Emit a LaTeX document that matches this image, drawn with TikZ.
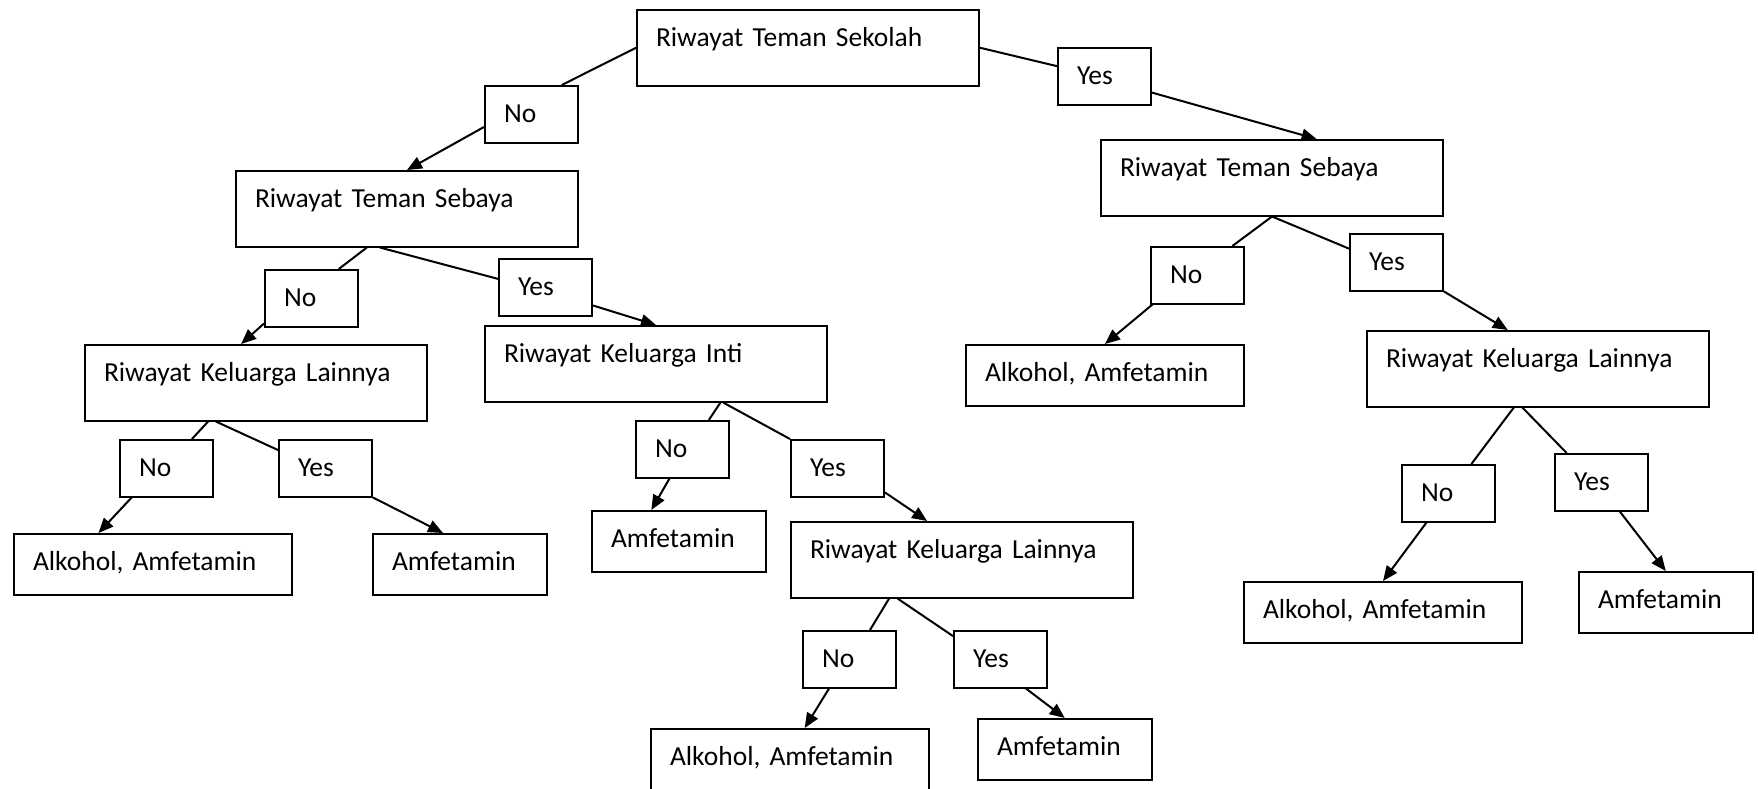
\documentclass[tikz,border=0pt]{standalone}
\usepackage{fontspec}
\setmainfont{Carlito}
\usepackage{tikz}
\usetikzlibrary{arrows.meta}

\begin{document}
\begin{tikzpicture}[
  x=0.4pt, y=-0.4pt,
  kotak/.style={draw, line width=0.8pt, anchor=north west, inner xsep=7.6pt,
                inner ysep=0pt, align=left, font=\fontsize{11}{13}\selectfont,
                text height=14.4pt},
  tanya/.style={kotak, text width=121.6pt, text depth=15.8pt},
  jawab/.style={kotak, text width=22pt, text depth=8.2pt},
  hasil/.style={kotak, text width=#1, text depth=10pt},
  ln/.style={line width=0.8pt},
  ar/.style={-{Triangle[length=6pt, width=5pt]}, line width=0.8pt}
]
  \useasboundingbox (0,0) rectangle (1758,788);
  % akar
  \node[tanya] (sek) at (636,9) {Riwayat Teman Sekolah};
  % cabang kiri
  \node[jawab] (no1) at (484,85) {No};
  \node[tanya] (sebL) at (235,170) {Riwayat Teman Sebaya};
  \node[jawab] (no2) at (264,269) {No};
  \node[jawab] (yes2) at (498,258) {Yes};
  \node[tanya] (kelLL) at (84,344) {Riwayat Keluarga Lainnya};
  \node[tanya] (inti) at (484,325) {Riwayat Keluarga Inti};
  \node[jawab] (no3) at (119,439) {No};
  \node[jawab] (yes3) at (278,439) {Yes};
  \node[hasil=96pt] (alkLL) at (13,533) {Alkohol, Amfetamin};
  \node[hasil=54.2pt] (amfLL) at (372,533) {Amfetamin};
  \node[jawab] (no4) at (635,420) {No};
  \node[jawab] (yes4) at (790,439) {Yes};
  \node[hasil=54.2pt] (amfInti) at (591,510) {Amfetamin};
  \node[tanya] (kelLM) at (790,521) {Riwayat Keluarga Lainnya};
  \node[jawab] (no5) at (802,630) {No};
  \node[jawab] (yes5) at (953,630) {Yes};
  \node[hasil=96pt] (alkM) at (650,728) {Alkohol, Amfetamin};
  \node[hasil=54.2pt] (amfM) at (977,718) {Amfetamin};
  % cabang kanan
  \node[jawab] (yes1) at (1057,47) {Yes};
  \node[tanya] (sebR) at (1100,139) {Riwayat Teman Sebaya};
  \node[jawab] (noR1) at (1150,246) {No};
  \node[jawab] (yesR1) at (1349,233) {Yes};
  \node[hasil=96pt] (alkR) at (965,344) {Alkohol, Amfetamin};
  \node[tanya] (kelLR) at (1366,330) {Riwayat Keluarga Lainnya};
  \node[jawab] (noR2) at (1401,464) {No};
  \node[jawab] (yesR2) at (1554,453) {Yes};
  \node[hasil=96pt] (alkRR) at (1243,581) {Alkohol, Amfetamin};
  \node[hasil=54.2pt] (amfRR) at (1578,571) {Amfetamin};
  % garis kiri
  \draw[ln] (sek.west) -- (no1.44);
  \draw[ar] (no1.195) -- (sebL.north);
  \draw[ln] (sebL.224) -- (no2.47);
  \draw[ar] (no2.208) -- (kelLL.111);
  \draw[ln] (sebL.235) -- (yes2.170);
  \draw[ar] (yes2.-21) -- (inti.north);
  \draw[ln] (kelLL.219) -- (no3.49);
  \draw[ar] (no3.220) -- (alkLL.150);
  \draw[ln] (kelLL.224) -- (yes3.159);
  \draw[ar] (yes3.south east) -- (amfLL.118);
  \draw[ln] (inti.-31) -- (no4.48);
  \draw[ar] (no4.246) -- (amfInti.131);
  \draw[ln] (inti.-30) -- (yes4.north west);
  \draw[ar] (yes4.-27) -- (kelLM.132);
  \draw[ln] (kelLM.208) -- (no5.55);
  \draw[ar] (no5.235) -- (alkM.65);
  \draw[ln] (kelLM.211) -- (yes5.154);
  \draw[ar] (yes5.-49) -- (amfM.north);
  % garis kanan
  \draw[ln] (sek.east) -- (yes1.168);
  \draw[ar] (yes1.-19) -- (sebR.41);
  \draw[ln] (sebR.south) -- (noR1.40);
  \draw[ar] (noR1.213) -- (alkR.north);
  \draw[ln] (sebR.south) -- (yesR1.164);
  \draw[ar] (yesR1.south east) -- (kelLR.128);
  \draw[ln] (kelLR.238) -- (noR2.52);
  \draw[ar] (noR2.233) -- (alkRR.north);
  \draw[ln] (kelLR.248) -- (yesR2.140);
  \draw[ar] (yesR2.-58) -- (amfRR.north);
\end{tikzpicture}
\end{document}
